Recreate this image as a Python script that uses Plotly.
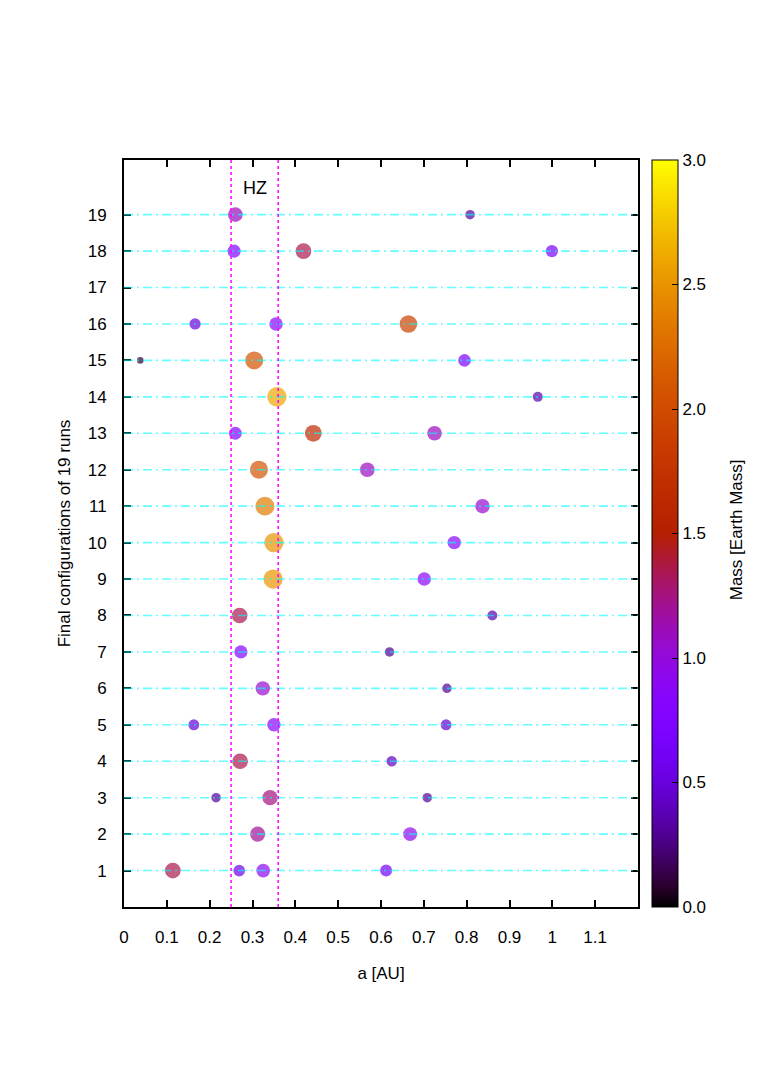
import math
import plotly.graph_objects as go

# final configurations: run index, semi-major axis [AU], mass [Earth mass]
run = [19, 19,
       18, 18, 18,
       16, 16, 16,
       15, 15, 15,
       14, 14,
       13, 13, 13,
       12, 12,
       11, 11,
       10, 10,
       9, 9,
       8, 8,
       7, 7,
       6, 6,
       5, 5, 5,
       4, 4,
       3, 3, 3,
       2, 2,
       1, 1, 1, 1]
a_au = [0.260, 0.808,
        0.257, 0.419, 0.999,
        0.166, 0.355, 0.664,
        0.038, 0.304, 0.795,
        0.357, 0.966,
        0.260, 0.442, 0.725,
        0.315, 0.568,
        0.329, 0.837,
        0.350, 0.771,
        0.348, 0.701,
        0.270, 0.860,
        0.273, 0.620,
        0.324, 0.754,
        0.163, 0.350, 0.752,
        0.271, 0.625,
        0.215, 0.341, 0.708,
        0.312, 0.668,
        0.114, 0.269, 0.325, 0.612]
mass = [1.10, 0.30,
        0.80, 1.35, 0.65,
        0.50, 0.85, 1.90,
        0.10, 2.05, 0.70,
        2.60, 0.35,
        0.75, 1.65, 1.10,
        2.05, 1.10,
        2.35, 1.05,
        2.50, 0.85,
        2.50, 0.85,
        1.35, 0.35,
        0.80, 0.30,
        1.05, 0.30,
        0.45, 0.85, 0.45,
        1.35, 0.40,
        0.30, 1.25, 0.30,
        1.20, 0.95,
        1.35, 0.55, 0.90, 0.60]

runs_all = list(range(1, 20))
hz_inner, hz_outer = 0.25, 0.36
x_tickvals = [0, 0.1, 0.2, 0.3, 0.4, 0.5, 0.6, 0.7, 0.8, 0.9, 1.0, 1.1]
x_ticktext = ["0", "0.1", "0.2", "0.3", "0.4", "0.5", "0.6", "0.7", "0.8", "0.9", "1", "1.1"]
cb_tickvals = [0, 0.5, 1.0, 1.5, 2.0, 2.5, 3.0]
CMAX = 3.0

FONT = "Liberation Sans, Arial, sans-serif"
PLOT_W = 514  # plot area width in px, used to place colorbar pieces in paper units


def gnuplot_color(x):
    # gnuplot default palette: rgbformulae 7,5,15
    r = math.sqrt(x)
    g = x ** 3
    b = max(0.0, math.sin(2 * math.pi * x))
    return f"rgb({round(r * 255)},{round(g * 255)},{round(b * 255)})"


colorscale = [[i / 40, gnuplot_color(i / 40)] for i in range(41)]
sizes = [14.2 * m ** (1 / 3) for m in mass]

cb_x = 14 / PLOT_W + 1  # colorbar left edge, 14px right of the plot frame
cb_thick = 26

fig = go.Figure()
fig.add_trace(go.Scatter(
    x=a_au, y=run, mode="markers",
    marker=dict(
        size=sizes, color=mass, cmin=0, cmax=CMAX, colorscale=colorscale,
        line=dict(width=0),
        colorbar=dict(
            x=cb_x, xanchor="left", xpad=0, y=0.5, yanchor="middle",
            len=1.0, ypad=0,
            thickness=cb_thick, outlinecolor="black", outlinewidth=1,
            ticks="inside", ticklen=6, tickcolor="black",
            tickvals=cb_tickvals, tickformat=".1f",
            tickfont=dict(family=FONT, size=17, color="black"),
        ),
    ),
    showlegend=False, hoverinfo="x+y",
))

shapes = []
for r in runs_all:
    shapes.append(dict(type="line", xref="paper", x0=0, x1=1, yref="y", y0=r, y1=r,
                       layer="above", opacity=0.6,
                       line=dict(color="#00ffff", width=1.6, dash="9px,4px,2px,4px")))
for xv in (hz_inner, hz_outer):
    shapes.append(dict(type="line", xref="x", x0=xv, x1=xv, yref="paper", y0=0, y1=1,
                       layer="above",
                       line=dict(color="#ff00ff", width=1.5, dash="dot")))
# mirrored ticks on the right edge of the colour bar
cb_right = cb_x + cb_thick / PLOT_W
for v in cb_tickvals[1:-1]:
    shapes.append(dict(type="line", xref="paper", yref="paper",
                       x0=cb_right - 6 / PLOT_W, x1=cb_right, y0=v / CMAX, y1=v / CMAX,
                       line=dict(color="black", width=1)))

# page body has an 8px margin, so the figure is shrunk and offset to match
fig.update_layout(
    width=755, height=1082,
    margin=dict(l=116, r=125, t=152, b=183),
    paper_bgcolor="white", plot_bgcolor="white",
    font=dict(family=FONT, size=17, color="black"),
    shapes=shapes,
    annotations=[
        dict(x=(hz_inner + hz_outer) / 2, y=19.72, xref="x", yref="y",
             text="HZ", showarrow=False, font=dict(family=FONT, size=18)),
        dict(x=1 + 110 / PLOT_W, y=0.505, xref="paper", yref="paper",
             text="Mass [Earth Mass]", textangle=-90, showarrow=False,
             font=dict(family=FONT, size=17)),
    ],
)
fig.update_xaxes(
    range=[0, 1.2], tickvals=x_tickvals, ticktext=x_ticktext,
    ticks="inside", ticklen=7, tickwidth=1.5, tickcolor="black",
    showline=True, linecolor="black", linewidth=2, mirror="ticks",
    showgrid=False, zeroline=False, ticklabelstandoff=14,
    title=dict(text="a [AU]", standoff=21, font=dict(family=FONT, size=17)),
    tickfont=dict(family=FONT, size=17),
)
fig.update_yaxes(
    range=[0, 20.5], tickvals=runs_all,
    ticks="inside", ticklen=7, tickwidth=1.5, tickcolor="black",
    showline=True, linecolor="black", linewidth=2, mirror="ticks",
    showgrid=False, zeroline=False, ticklabelstandoff=12,
    title=dict(text="Final configurations of 19 runs", standoff=13,
               font=dict(family=FONT, size=17)),
    tickfont=dict(family=FONT, size=17),
)

fig.write_html("out.html")
